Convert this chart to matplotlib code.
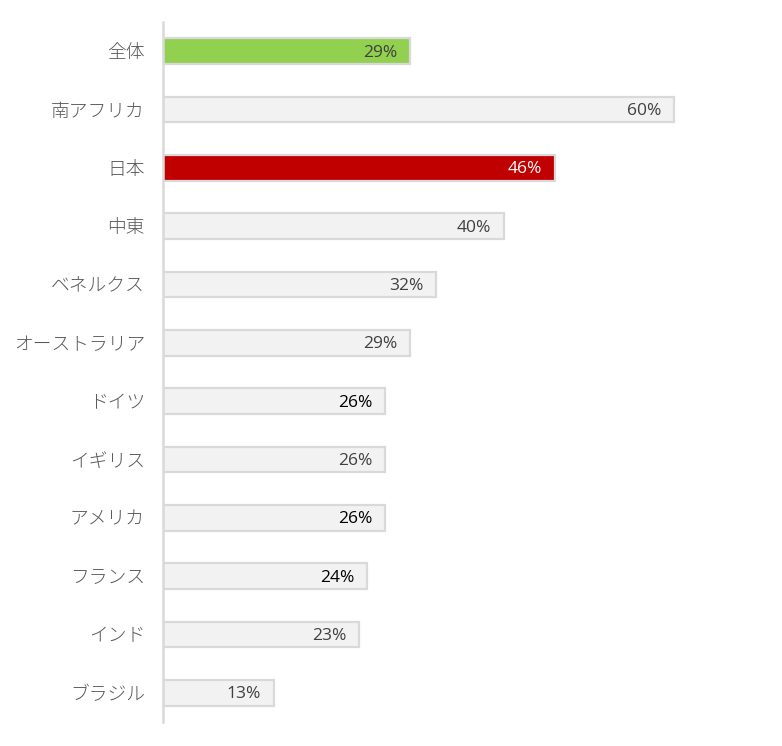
import matplotlib
matplotlib.use("Agg")
import matplotlib.pyplot as plt

plt.rcParams['font.family'] = ['Noto Sans CJK JP', 'DejaVu Sans']

categories = ["全体", "南アフリカ", "日本", "中東", "ベネルクス", "オーストラリア",
              "ドイツ", "イギリス", "アメリカ", "フランス", "インド", "ブラジル"]
values = [29, 60, 46, 40, 32, 29, 26, 26, 26, 24, 23, 13]
bar_colors = ["#92D050", "#F2F2F2", "#C00000", "#F2F2F2", "#F2F2F2", "#F2F2F2",
              "#F2F2F2", "#F2F2F2", "#F2F2F2", "#F2F2F2", "#F2F2F2", "#F2F2F2"]
label_colors = ["#404040", "#404040", "#FFFFFF", "#404040", "#404040", "#404040",
                "#000000", "#404040", "#000000", "#000000", "#404040", "#404040"]

W, H = 782, 746
fig = plt.figure(figsize=(W / 100, H / 100), dpi=100)
left, right = 163, 760
top, bottom = 22, 722
ax = fig.add_axes([left / W, (H - bottom) / H, (right - left) / W, (bottom - top) / H])

y = list(range(len(categories)))
ax.barh(y, values, height=0.44, color=bar_colors, edgecolor="#D9D9D9", linewidth=1.6)
ax.set_ylim(len(categories) - 0.5, -0.5)
ax.set_xlim(0, (right - left) / 8.52)

for yi, v, c in zip(y, values, label_colors):
    ax.annotate(f"{v}%", xy=(v, yi), xytext=(-9, -1), textcoords="offset points",
                ha="right", va="center", color=c, fontsize=12.5,
                family=["Open Sans", "DejaVu Sans"])

ax.set_yticks(y)
ax.set_yticklabels(categories, fontsize=13.5, color="#595959", fontweight="light")
ax.tick_params(axis="y", length=0, pad=13)
ax.set_xticks([])
for s in ["top", "right", "bottom"]:
    ax.spines[s].set_visible(False)
ax.spines["left"].set_color("#D9D9D9")
ax.spines["left"].set_linewidth(1.8)

fig.savefig("out.png", dpi=100)
